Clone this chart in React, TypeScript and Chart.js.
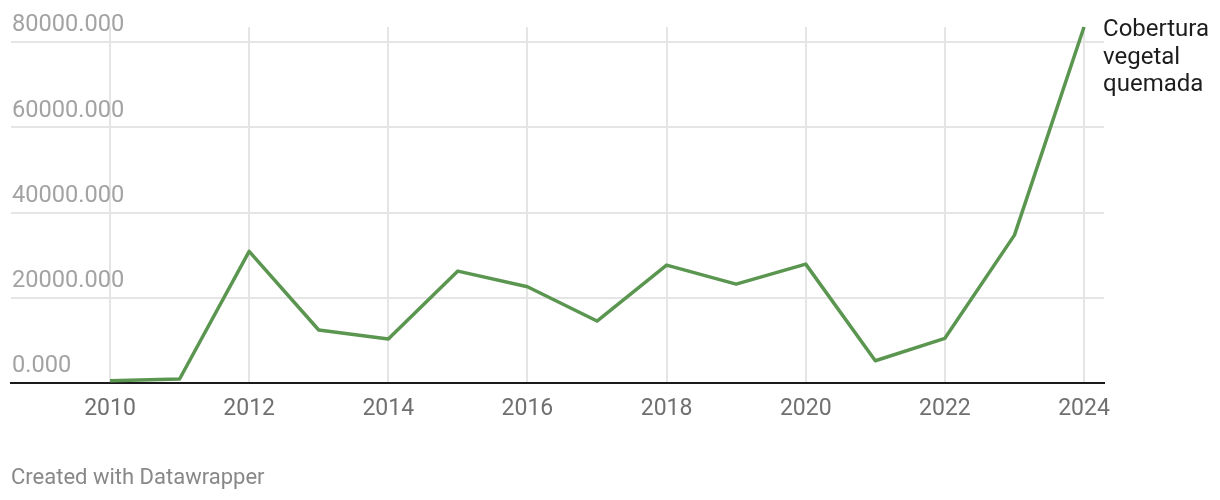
import React, { useEffect, useRef } from "react";
import { Chart, registerables } from "chart.js";

Chart.register(...registerables);

const years = [2010, 2011, 2012, 2013, 2014, 2015, 2016, 2017, 2018, 2019, 2020, 2021, 2022, 2023, 2024];
const burned = [540, 940, 30880, 12430, 10320, 26260, 22580, 14540, 27670, 23210, 27900, 5230, 10480, 34700, 83540];
const xTickValues = [2010, 2012, 2014, 2016, 2018, 2020, 2022, 2024];
const yTickValues = [0, 20000, 40000, 60000, 80000];
const seriesLabel = ["Cobertura", "vegetal", "quemada"];
const footerText = "Created with Datawrapper";

const LINE_COLOR = "#5b9651";

const lineLabelPlugin = {
  id: "lineLabel",
  afterDatasetsDraw(chart: any) {
    const meta = chart.getDatasetMeta(0);
    const last = meta.data[meta.data.length - 1];
    if (!last) return;
    const ctx = chart.ctx;
    ctx.save();
    ctx.font = "24px Roboto";
    ctx.fillStyle = "#1d1d1d";
    ctx.textAlign = "left";
    ctx.textBaseline = "alphabetic";
    seriesLabel.forEach((t, i) => {
      ctx.fillText(t, last.x + 19, last.y + 9 + i * 27.5);
    });
    ctx.restore();
  },
};

export default function App() {
  const ref = useRef<HTMLCanvasElement | null>(null);

  useEffect(() => {
    if (!ref.current) return;
    const chart = new Chart(ref.current, {
      type: "line",
      data: {
        datasets: [
          {
            data: years.map((y, i) => ({ x: y, y: burned[i] })),
            borderColor: LINE_COLOR,
            borderWidth: 3.5,
            pointRadius: 0,
            tension: 0,
            fill: false,
            clip: false as any,
            borderJoinStyle: "round",
          },
        ],
      },
      options: {
        animation: false,
        responsive: false,
        devicePixelRatio: 1,
        layout: { padding: { left: 11, right: 116, top: 27, bottom: 0 } },
        plugins: { legend: { display: false }, tooltip: { enabled: false } },
        scales: {
          x: {
            type: "linear",
            min: 2008.577,
            max: 2024.287,
            afterBuildTicks: (s: any) => {
              s.ticks = xTickValues.map((v) => ({ value: v }));
            },
            afterFit: (s: any) => {
              s.height = 117;
            },
            grid: { color: "#e5e5e5", lineWidth: 2, drawTicks: false },
            border: { display: true, color: "#1a1a1a", width: 2 },
            ticks: {
              font: { family: "Roboto", size: 23 },
              color: "#707070",
              padding: 12,
              maxRotation: 0,
              autoSkip: false,
              callback: (v: any) => String(v),
            },
          },
          y: {
            type: "linear",
            min: 0,
            max: 83540,
            afterBuildTicks: (s: any) => {
              s.ticks = yTickValues.map((v) => ({ value: v }));
            },
            afterFit: (s: any) => {
              s.width = 0;
            },
            grid: {
              color: (c: any) => (c.tick && c.tick.value === 0 ? "rgba(0,0,0,0)" : "#e5e5e5"),
              lineWidth: 2,
              drawTicks: false,
            },
            border: { display: false },
            ticks: {
              mirror: true,
              padding: 1,
              labelOffset: -16.5,
              font: { family: "Roboto", size: 23.6 },
              color: "#a3a3a3",
              callback: (v: any) => Number(v).toFixed(3),
            },
          },
        },
      },
      plugins: [lineLabelPlugin],
    } as any);
    return () => chart.destroy();
  }, []);

  return (
    <div style={{ position: "absolute", left: 0, top: 0, width: 1220, height: 500, background: "#fff" }}>
      <canvas ref={ref} width={1220} height={500} style={{ display: "block", width: 1220, height: 500 }} />
      <div
        style={{
          position: "absolute",
          left: 11,
          top: 466,
          fontFamily: "Roboto",
          fontSize: 22,
          lineHeight: "22px",
          color: "#888888",
          whiteSpace: "nowrap",
        }}
      >
        {footerText}
      </div>
    </div>
  );
}
